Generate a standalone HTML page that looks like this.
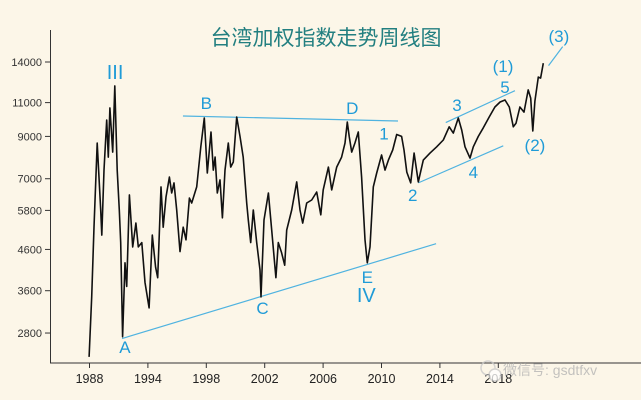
<!DOCTYPE html>
<html><head><meta charset="utf-8">
<style>
html,body{margin:0;padding:0;background:#fcf6e8;}
svg{display:block;font-family:"Liberation Sans","Noto Sans CJK SC",sans-serif;}
.lb{fill:#1f9bd7;text-anchor:middle;}
</style></head>
<body>
<svg id="chart" width="641" height="400" viewBox="0 0 641 400">
<rect width="641" height="400" fill="#fcf6e8"/>
<text x="326" y="45" text-anchor="middle" font-size="21" fill="#227f80" style="font-family:'Noto Sans CJK SC',sans-serif">台湾加权指数走势周线图</text>
<g id="axes"></g>
<g id="trend"></g>
<g id="series"></g>
<g id="labels"></g>
<g opacity="0.75">
<circle cx="488" cy="368" r="7" fill="none" stroke="#c8c8c8" stroke-width="1.5"/>
<circle cx="495" cy="375" r="6" fill="#fff" stroke="#c8c8c8" stroke-width="1.5"/>
<text x="503" y="375" font-size="14" fill="#b0b0b0" style="font-family:'Liberation Sans','Noto Sans CJK SC',sans-serif">微信号: gsdtfxv</text>
</g>
</svg>
<script>
const years=[1989.97,1990.15,1990.31,1990.53,1990.77,1990.84,1990.99,1991.18,1991.29,1991.40,1991.59,1991.73,1991.90,1992.04,1992.14,1992.27,1992.43,1992.55,1992.73,1992.96,1993.18,1993.34,1993.58,1993.80,1994.08,1994.30,1994.53,1994.67,1994.90,1995.05,1995.24,1995.47,1995.63,1995.79,1995.97,1996.20,1996.42,1996.61,1996.84,1997.00,1997.34,1997.62,1997.86,1998.07,1998.32,1998.48,1998.60,1998.75,1998.94,1999.10,1999.28,1999.51,1999.67,1999.85,2000.08,2000.31,2000.53,2000.77,2000.88,2001.04,2001.22,2001.45,2001.68,2001.75,2001.95,2002.25,2002.48,2002.77,2002.93,2003.16,2003.37,2003.51,2003.85,2004.19,2004.42,2004.60,2004.88,2005.22,2005.56,2005.84,2006.01,2006.36,2006.59,2006.93,2007.27,2007.50,2007.66,2007.79,2007.96,2008.18,2008.41,2008.64,2008.87,2009.03,2009.21,2009.44,2009.67,2010.01,2010.24,2010.47,2010.77,2011.04,2011.38,2011.54,2011.73,2012.00,2012.23,2012.52,2012.86,2013.32,2013.78,2014.23,2014.64,2014.92,2015.26,2015.49,2015.72,2016.06,2016.29,2016.63,2016.97,2017.38,2017.77,2018.12,2018.46,2018.75,2019.03,2019.21,2019.48,2019.76,2020.05,2020.22,2020.36,2020.51,2020.74,2020.90,2021.08];
const values=[2430,3470,5250,8650,5815,5010,7370,9920,7960,10660,8200,12150,7370,5815,4790,2740,4250,3690,6360,4670,5380,4670,4790,3780,3250,5010,4140,3890,6670,5250,6280,7070,6430,6830,5815,4540,5250,4870,6240,6060,6670,8460,10040,7240,9240,7370,7960,6430,6950,5550,7370,8650,7500,7730,10100,9000,7960,6060,5480,4790,5815,4790,4070,3470,5480,6430,5160,3890,4790,4510,4190,5160,5815,6870,5815,5380,6060,6170,6470,5650,6550,7500,6550,7500,7960,8650,9800,9000,8200,8650,9240,7070,4870,4250,4670,6670,7240,8060,7370,7820,8300,9100,9000,8300,7280,6830,8150,6870,7820,8150,8460,8810,9530,9180,10040,9350,8460,7910,8460,9000,9470,10100,10720,11040,11170,10720,9530,9730,10720,10400,11860,11300,9300,11100,12800,12720,13900];
const yTicks=[2800,3600,4600,5800,7000,9000,11000,14000];
const xTickYears=[1990,1994,1998,2002,2006,2010,2014,2018];
const xTickLabels=["1988","1994","1998","2002","2006","2010","2014","2018"];
const trendYears=[[1992.23,2013.74],[1996.40,2011.13],[2012.52,2018.34],[2014.40,2019.14],[2021.44,2022.41]];
const trendValues=[[2710,4760],[10160,9860],[6830,8510],[9770,11810],[13700,15340]];
const labelText=["III","B","D","1","2","3","4","5","(1)","(2)","(3)","A","C","E","IV"];
const labelYears=[1991.75,1998.0,2008.0,2010.17,2012.14,2015.17,2016.29,2018.46,2018.32,2020.51,2022.15,1992.43,2011.75-9.9,2009.03,2008.96];
const labelValues=[12660,10590,10280,8830,6130,10470,7030,11650,13200,8250,15760,2490,3135,3770,3370];

const NS="http://www.w3.org/2000/svg";
function x(t){return 89.5+(t-1990)*14.6;}
function y(v){return 62+168.4*Math.log(14000/v);}
function mk(tag,attrs,parent){const e=document.createElementNS(NS,tag);for(const k in attrs)e.setAttribute(k,attrs[k]);parent.appendChild(e);return e;}
const axes=document.getElementById('axes');
let e=mk('line',{x1:50.5,y1:30,x2:50.5,y2:363,stroke:'#333','stroke-width':1},axes);


e=mk('line',{x1:50,y1:363,x2:641,y2:363,stroke:'#333','stroke-width':1},axes);


yTicks.forEach(v=>{
  const t=mk('line',{x1:45,x2:50.5,y1:y(v),y2:y(v),stroke:'#333'},axes);
  
  
  const l=mk('text',{x:42,y:y(v)+4,'text-anchor':'end','font-size':11,fill:'#333'},axes);
  l.textContent=v;
  
  
});
xTickYears.forEach((t,i)=>{
  const m=mk('line',{x1:x(t),x2:x(t),y1:363,y2:368,stroke:'#333'},axes);
  
  
  const l=mk('text',{x:x(t),y:383,'text-anchor':'middle','font-size':12.5,fill:'#222'},axes);
  l.textContent=xTickLabels[i];
  
  
});
const tr=document.getElementById('trend');
trendYears.forEach((ty,i)=>{
  const l=mk('line',{x1:x(ty[0]),y1:y(trendValues[i][0]),x2:x(ty[1]),y2:y(trendValues[i][1]),stroke:'#4fb3e0','stroke-width':1.2},tr);
  
  
});
const s=document.getElementById('series');
const p=mk('path',{d:years.map((t,i)=>(i?'L':'M')+x(t).toFixed(1)+' '+y(values[i]).toFixed(1)).join(' '),fill:'none',stroke:'#111','stroke-width':1.6,'stroke-linejoin':'round'},s);


const lg=document.getElementById('labels');
labelText.forEach((t,i)=>{
  const l=mk('text',{x:x(labelYears[i]),y:y(labelValues[i]),class:'lb','font-size':(t==='III'||t==='IV')?20:17},lg);
  l.textContent=t;
  
  
});
</script>
</body></html>
